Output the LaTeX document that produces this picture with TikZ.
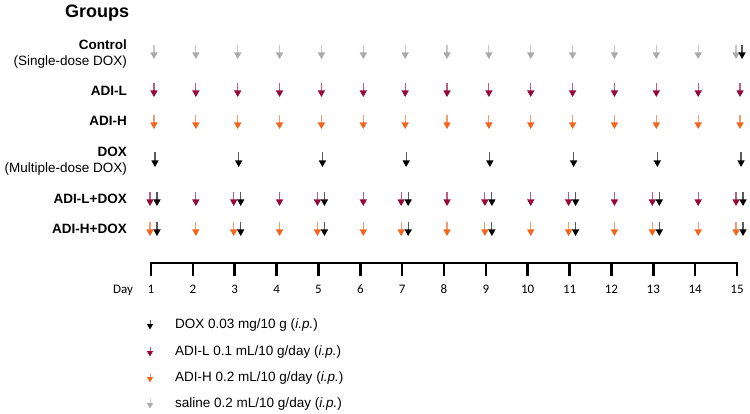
\documentclass[tikz,border=0pt]{standalone}
\usepackage{fontspec}
\setmainfont{Liberation Sans}
\newfontfamily\dayfont{Carlito}
\usetikzlibrary{%
	arrows.meta,%
	positioning,%
}
\definecolor{cgray}{RGB}{170, 170, 170}
\definecolor{cmaroon}{RGB}{150, 8, 58}
\definecolor{corange}{RGB}{244, 100, 28}
\tikzset{
	titlenode/.style={%
			anchor=base west,%
			inner sep=0,%
			font={\fontsize{18}{20}\selectfont\bfseries}},%
	groupname/.style={%
			anchor=base east,%
			inner sep=0,%
			font={\fontsize{13.5}{15}\selectfont\bfseries}},%
	groupnote/.style={%
			anchor=base east,%
			inner sep=0,%
			font={\fontsize{13.5}{15}\selectfont}},%
	legendtext/.style={%
			anchor=base west,%
			inner sep=0,%
			font={\fontsize{13.5}{15}\selectfont}},%
	daylabel/.style={%
			anchor=base,%
			inner sep=0,%
			font={\dayfont\fontsize{13}{15}\selectfont}},%
	axisline/.style={%
			line width=2.5pt,%
			line cap=rect},%
	dose/.style={%
			-{Triangle[width=7pt,length=6.5pt,color=#1]},%
			draw=#1!65,%
			line width=1.1pt},%
	legenddose/.style={%
			-{Triangle[width=6pt,length=5.5pt,color=#1]},%
			draw=#1!65,%
			line width=1pt},%
}

\begin{document}
\begin{tikzpicture}[x=1pt, y=-1pt]
	\useasboundingbox (0,0) rectangle (750,414);

	\node[titlenode] (groups) at (65,18) {Groups};

	% group labels
	\node[groupname] (ctrl) at (127,50) {Control};
	\node[groupnote] (ctrlnote) at (127,66) {(Single-dose DOX)};
	\node[groupname] (adil) at (127,96) {ADI-L};
	\node[groupname] (adih) at (127,125.5) {ADI-H};
	\node[groupname] (dox) at (127,157) {DOX};
	\node[groupnote] (doxnote) at (127,173) {(Multiple-dose DOX)};
	\node[groupname] (adildox) at (127,204) {ADI-L+DOX};
	\node[groupname] (adihdox) at (127,234) {ADI-H+DOX};

	% time axis
	\foreach \d in {1,...,15}
		\coordinate (t\d) at ({151+(\d-1)*41.86},263);
	\draw[axisline] ([yshift=-12pt]t1) -- (t1) -- (t15) -- ([yshift=-12pt]t15);
	\foreach \d in {2,...,14}
		\draw[axisline] (t\d) -- ([yshift=-12pt]t\d);
	\node[daylabel, anchor=base west] (daylab) at (113,294) {Day};
	\foreach \d in {1,...,15}
		\node[daylabel] (n\d) at ([yshift=-31pt]t\d) {\d};

	% daily saline / ADI doses
	\foreach \d in {1,...,15} {
		\pgfmathsetmacro{\xs}{151+(\d-1)*41.86+3}
		\pgfmathsetmacro{\xc}{(\d==15) ? \xs-4 : \xs}
		\pgfmathsetmacro{\xp}{(mod(\d,2)==1) ? \xs-4 : \xs}
		\draw[dose=cgray] (\xc,45) -- (\xc,59);
		\draw[dose=cmaroon] (\xs,83) -- (\xs,97);
		\draw[dose=corange] (\xs,115) -- (\xs,129);
		\draw[dose=cmaroon] (\xp,192) -- (\xp,206);
		\draw[dose=corange] (\xp,222) -- (\xp,236);
	}

	% DOX doses, every other day
	\draw[dose=black] ({151+14*41.86+5},45) -- ({151+14*41.86+5},59);
	\foreach \d in {1,3,...,15} {
		\pgfmathsetmacro{\xd}{151+(\d-1)*41.86}
		\draw[dose=black] (\xd+4,152) -- (\xd+4,167);
		\draw[dose=black] (\xd+6,192) -- (\xd+6,206);
		\draw[dose=black] (\xd+6,222) -- (\xd+6,236);
	}

	% legend
	\node[legendtext] (legdox) at (175,328) {DOX 0.03 mg/10 g (\textit{i.p.})};
	\node[legendtext] (legadil) at (175,355) {ADI-L 0.1 mL/10 g/day (\textit{i.p.})};
	\node[legendtext] (legadih) at (175,381) {ADI-H 0.2 mL/10 g/day (\textit{i.p.})};
	\node[legendtext] (legsal) at (175,407) {saline 0.2 mL/10 g/day (\textit{i.p.})};
	\draw[legenddose=black] ([xshift=-25pt,yshift=5pt]legdox.west) -- ([xshift=-25pt,yshift=-5pt]legdox.west);
	\draw[legenddose=cmaroon] ([xshift=-25pt,yshift=5pt]legadil.west) -- ([xshift=-25pt,yshift=-5pt]legadil.west);
	\draw[legenddose=corange] ([xshift=-25pt,yshift=5pt]legadih.west) -- ([xshift=-25pt,yshift=-5pt]legadih.west);
	\draw[legenddose=cgray] ([xshift=-25pt,yshift=5pt]legsal.west) -- ([xshift=-25pt,yshift=-5pt]legsal.west);
\end{tikzpicture}
\end{document}
